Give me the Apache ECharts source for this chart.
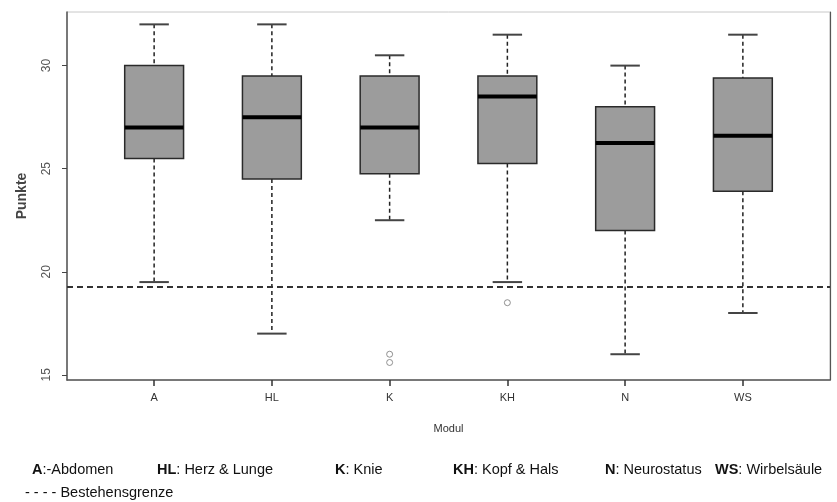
<!DOCTYPE html>
<html>
<head>
<meta charset="utf-8">
<script src="https://cdn.jsdelivr.net/npm/echarts@6/dist/echarts.min.js"></script>
<style>
  html, body { margin: 0; padding: 0; background: #fff; }
  #chart { width: 837px; height: 502px; }
</style>
</head>
<body>
<div id="chart"></div>
<script>
// Module (x positions 1..6)
var categories = ['A', 'HL', 'K', 'KH', 'N', 'WS'];
var lowWhisker = [19.5, 17, 22.5, 19.5, 16, 18];
var q1 = [25.5, 24.5, 24.75, 25.25, 22, 23.9];
var medians = [27, 27.5, 27, 28.5, 26.25, 26.6];
var q3 = [30, 29.5, 29.5, 29.5, 28, 29.4];
var highWhisker = [32, 32, 30.5, 31.5, 30, 31.5];
// Ausreißer: [Modulindex, Punkte]
var outliers = [[3, 16], [3, 15.6], [4, 18.5]];
var passLimit = 19.25;
var yTicks = [15, 20, 25, 30];

var boxData = categories.map(function (c, i) {
    return [i + 1, lowWhisker[i], q1[i], medians[i], q3[i], highWhisker[i]];
});

var font = 'Liberation Sans, Arial, sans-serif';

// Legende unter dem Diagramm
var legendItems = [
    { key: 'A', text: ':-Abdomen', x: 32 },
    { key: 'HL', text: ': Herz & Lunge', x: 157 },
    { key: 'K', text: ': Knie', x: 335 },
    { key: 'KH', text: ': Kopf & Hals', x: 453 },
    { key: 'N', text: ': Neurostatus', x: 605 },
    { key: 'WS', text: ': Wirbelsäule', x: 715 }
];

var graphics = legendItems.map(function (it) {
    return {
        type: 'text', left: it.x, top: 462,
        style: {
            text: '{b|' + it.key + '}' + it.text,
            font: '14.5px ' + font, fill: '#111',
            rich: { b: { fontWeight: 'bold', fontSize: 14.5, fontFamily: font, fill: '#111' } }
        }
    };
});
graphics.push({
    type: 'text', left: 25, top: 485,
    style: { text: '- - - - Bestehensgrenze', font: '14.5px ' + font, fill: '#111' }
});

var myChart = echarts.init(document.getElementById('chart'));
var option = {
    backgroundColor: '#fff',
    animation: false,
    grid: {
        left: 67, right: 7, top: 12, bottom: 122,
        show: true, borderColor: '#c8c8c8', borderWidth: 1
    },
    xAxis: {
        type: 'value',
        min: 0.26, max: 6.74,
        name: 'Modul',
        nameLocation: 'middle',
        nameGap: 43,
        nameTextStyle: { fontFamily: font, fontSize: 11, color: '#333' },
        axisLine: { show: true, lineStyle: { color: '#555', width: 1.5 } },
        axisTick: { show: true, customValues: [1, 2, 3, 4, 5, 6], length: 6, lineStyle: { color: '#333', width: 1.5 } },
        axisLabel: {
            customValues: [1, 2, 3, 4, 5, 6],
            formatter: function (v) { return categories[Math.round(v) - 1]; },
            fontFamily: font, fontSize: 11, color: '#333', margin: 12
        },
        splitLine: { show: false }
    },
    yAxis: [{
        type: 'value',
        min: 14.75, max: 32.6,
        name: 'Punkte',
        nameLocation: 'middle',
        nameGap: 38,
        nameTextStyle: { fontFamily: font, fontSize: 14, fontWeight: 'bold', color: '#444' },
        axisLine: { show: true, lineStyle: { color: '#555', width: 1.5 } },
        axisTick: { show: true, customValues: yTicks, length: 5, lineStyle: { color: '#444' } },
        axisLabel: {
            customValues: yTicks, rotate: 90,
            fontFamily: font, fontSize: 12, color: '#555', margin: 14
        },
        splitLine: { show: false }
    }, {
        type: 'value',
        position: 'right',
        min: 14.75, max: 32.6,
        axisLine: { show: true, lineStyle: { color: '#555', width: 1.2 } },
        axisTick: { show: false },
        axisLabel: { show: false },
        splitLine: { show: false }
    }],
    series: [{
        type: 'custom',
        data: boxData,
        encode: { x: 0, y: [1, 2, 3, 4, 5] },
        renderItem: function (params, api) {
            var x = api.value(0);
            var pLow = api.coord([x, api.value(1)]);
            var pQ1 = api.coord([x, api.value(2)]);
            var pMed = api.coord([x, api.value(3)]);
            var pQ3 = api.coord([x, api.value(4)]);
            var pHigh = api.coord([x, api.value(5)]);
            var bw = api.size([1, 0])[0] * 0.5;
            var cx = pMed[0];
            var dash = { stroke: '#222', lineWidth: 1.5, lineDash: [4, 3] };
            var cap = { stroke: '#444', lineWidth: 2 };
            return {
                type: 'group',
                children: [
                    { type: 'line', shape: { x1: cx, y1: pHigh[1], x2: cx, y2: pQ3[1] }, style: dash },
                    { type: 'line', shape: { x1: cx, y1: pQ1[1], x2: cx, y2: pLow[1] }, style: dash },
                    { type: 'line', shape: { x1: cx - bw / 4, y1: pHigh[1], x2: cx + bw / 4, y2: pHigh[1] }, style: cap },
                    { type: 'line', shape: { x1: cx - bw / 4, y1: pLow[1], x2: cx + bw / 4, y2: pLow[1] }, style: cap },
                    { type: 'rect', shape: { x: cx - bw / 2, y: pQ3[1], width: bw, height: pQ1[1] - pQ3[1] },
                      style: { fill: '#9c9c9c', stroke: '#2a2a2a', lineWidth: 1.5 } },
                    { type: 'line', shape: { x1: cx - bw / 2, y1: pMed[1], x2: cx + bw / 2, y2: pMed[1] },
                      style: { stroke: '#000', lineWidth: 4 } }
                ]
            };
        },
        markLine: {
            silent: true,
            symbol: 'none',
            label: { show: false },
            lineStyle: { color: '#333', type: [6, 4], width: 2 },
            data: [{ yAxis: passLimit }]
        },
        z: 2
    }, {
        type: 'scatter',
        data: outliers,
        symbol: 'circle',
        symbolSize: 6,
        itemStyle: { color: '#fff', borderColor: '#777', borderWidth: 1 },
        z: 3
    }],
    graphic: graphics
};
myChart.setOption(option);
</script>
</body>
</html>
